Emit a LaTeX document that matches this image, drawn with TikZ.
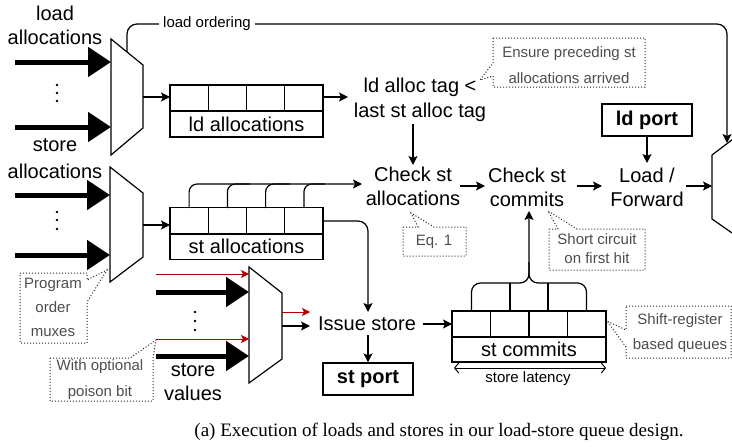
\documentclass[tikz,border=0pt]{standalone}
\usepackage{fontspec}
\setmainfont{Liberation Serif}
\newfontfamily\lsans{Liberation Sans}
\usetikzlibrary{arrows.meta}
\definecolor{poison}{HTML}{B20000}
\definecolor{notegray}{HTML}{4D4D4D}
\definecolor{noteline}{HTML}{262626}
\begin{document}
\begin{tikzpicture}[x=1pt,y=-1pt,
  line width=1.2pt,
  arr/.style={-{Stealth[length=9pt,width=9pt,inset=2pt]}},
  fat/.style={line width=5pt,-{Triangle[length=23pt,width=29pt]}},
  redarr/.style={draw=poison, line width=1pt, -{Stealth[length=8pt,width=8pt,inset=2pt,fill=poison]}},
  lbl/.style={font=\lsans\fontsize{20}{24}\selectfont, align=center, inner sep=0pt},
  port/.style={draw, font=\lsans\bfseries\fontsize{20}{24}\selectfont, minimum width=90pt, minimum height=32pt, inner sep=0pt},
  note/.style={draw=noteline, dotted, line width=1pt},
  notetext/.style={font=\lsans\fontsize{15}{26}\selectfont, text=notegray, align=center, inner sep=0pt},
  small/.style={font=\lsans\fontsize{15}{18}\selectfont, inner sep=0pt},
  qbox/.style={draw, minimum width=153pt, minimum height=52pt, inner sep=0pt},
  qlabel/.style={font=\lsans\fontsize{20}{24}\selectfont, inner sep=0pt},
  mux/.style={line width=1.2pt, fill=white, line join=miter},
  ]
\useasboundingbox (0,0) rectangle (732,447);
\clip (0,0) rectangle (732,447);

% ---------------- left labels ----------------
\node[lbl] (ldalloc) at (55,25.5) {load\\allocations};
\node[lbl, font=\lsans\fontsize{20}{27}\selectfont] (stalloc) at (55,158.5) {store\\allocations};
\node[lbl] (stval) at (193,382.5) {store\\values};
\foreach \y in {85,93,101} \fill (57,\y) circle (1.3pt);
\foreach \y in {212,220,229} \fill (57,\y) circle (1.3pt);
\foreach \y in {312,321,330} \fill (195,\y) circle (1.3pt);

% ---------------- load ordering ----------------
\draw[arr, rounded corners=10] (127,52) -- (127,24) -- (727,24) -- (727,143);
\node[small, fill=white, inner xsep=4pt, inner ysep=2pt] (ldord) at (207,24) {load ordering};

% ---------------- muxes ----------------
\draw[mux] (111,39) -- (143,65) -- (143,128) -- (111,155) -- cycle;
\draw[mux] (110,167) -- (143,193) -- (143,257) -- (110,282) -- cycle;
\draw[mux] (249,267) -- (282,293) -- (282,359) -- (249,383) -- cycle;
\draw[mux] (745,130) -- (712,155) -- (712,219) -- (745,242);

\draw[fat] (15,62) -- (111,62);
\draw[fat] (15,127) -- (111,127);
\draw[fat] (15,195) -- (110,195);
\draw[fat] (15,255) -- (110,255);
\draw[fat] (156,292) -- (249,292);
\draw[fat] (156,356) -- (249,356);
\draw[redarr] (156,274) -- (249,274);
\draw[redarr] (156,339) -- (249,339);

% ---------------- queues ----------------
\node[qbox] (ldq) at (246.5,111) {};
\draw (170,111) -- (323,111);
\foreach \x in {208.25,246.5,284.75} \draw (\x,85) -- (\x,111);
\node[qlabel] at (246.5,124) {ld allocations};

\node[qbox] (stq) at (246.5,233.5) {};
\draw (170,234) -- (323,234);
\foreach \x in {208.25,246.5,284.75} \draw (\x,208) -- (\x,234);
\node[qlabel] at (246.5,246.5) {st allocations};

\node[qbox, minimum width=154pt, minimum height=51pt] (stc) at (529,336.5) {};
\draw (452,337) -- (606,337);
\foreach \x in {490.5,529,567.5} \draw (\x,311) -- (\x,337);
\node[qlabel] at (529,349.5) {st commits};

% ---------------- text nodes ----------------
\node[lbl, font=\lsans\fontsize{20}{25}\selectfont] (ldtag) at (420,99.5) {ld alloc tag <\\last st alloc tag};
\node[lbl, font=\lsans\fontsize{20}{23.5}\selectfont] (chka) at (413,186.5) {Check st\\allocations};
\node[lbl] (chkc) at (527,187) {Check st\\commits};
\node[lbl] (ldfw) at (647,187) {Load /\\Forward};
\node[port] (ldport) at (647,120) {ld port};
\node[lbl] (issue) at (367,324) {Issue store};
\node[port] (stport) at (368,379) {st port};

% ---------------- connectors ----------------
\draw[arr] (143,97) -- (170,97);
\draw[arr] (143,225) -- (170,225);
\draw[arr] (323,97) -- (348,97);
\draw[arr] (413,124) -- (413,165);
\draw[arr] (460,186) -- (485,186);
\draw[arr] (577,186) -- (602,186);
\draw[arr] (ldport.south) -- (647,163);
\draw[arr] (686,186) -- (712,186);

% st allocations bracket
\draw[arr, rounded corners=8] (189.1,208) -- (189.1,184) -- (362,184);
\draw[rounded corners=8] (227.4,208) -- (227.4,184) -- (250,184);
\draw[rounded corners=8] (265.6,208) -- (265.6,184) -- (290,184);
\draw[rounded corners=8] (303.9,208) -- (303.9,184) -- (325,184);

% st allocations -> issue store
\draw[arr, rounded corners=10] (323,221) -- (368,221) -- (368,312);
\draw[redarr] (282,312) -- (310,312);
\draw[arr] (282,326) -- (310,326);
\draw[arr] (368,335) -- (stport.north);
\draw[arr] (423,324) -- (452,324);

% st commits bracket
\draw[arr, rounded corners=9] (471.5,311) -- (471.5,283) -- (529,283) -- (529,211);
\draw[rounded corners=9] (586.5,311) -- (586.5,283) -- (529,283) -- (529,262);
\draw (510,311) -- (510,283);
\draw (548,311) -- (548,283);

% store latency
\draw[line width=1pt, {Straight Barb[length=4pt,width=10pt]}-{Straight Barb[length=4pt,width=10pt]}] (454,368) -- (606,368);
\node[small] (lat) at (528,379) {store latency};

% ---------------- callouts ----------------
\draw[note] (493,38) -- (645,38) -- (645,87) -- (493,87) -- (493,76) -- (480,80) -- (493,63) -- cycle;
\node[notetext] (n1) at (569,65) {Ensure preceding st\\allocations arrived};

\draw[note] (403,227) -- (418,227) -- (411,213) -- (434,227) -- (466,227) -- (466,256) -- (403,256) -- cycle;
\node[notetext] (n2) at (434,242) {Eq. 1};

\draw[note] (549,229) -- (558,229) -- (548,211) -- (577,229) -- (645,229) -- (645,270) -- (549,270) -- cycle;
\node[notetext, font=\lsans\fontsize{15}{19}\selectfont] (n3) at (597,249) {Short circuit\\on first hit};

\draw[note] (626,306) -- (731,306) -- (731,358) -- (626,358) -- (626,347) -- (607,321) -- (626,330) -- cycle;
\node[notetext, font=\lsans\fontsize{15}{25}\selectfont] (n4) at (680,333.5) {Shift-register\\based queues};

\draw[note] (20,273) -- (87,273) -- (87,280) -- (107,270) -- (87,302) -- (87,343) -- (20,343) -- cycle;
\node[notetext, font=\lsans\fontsize{15}{24}\selectfont] (n5) at (53,307) {Program\\order\\muxes};

\draw[note] (50,358) -- (130,358) -- (156,340) -- (153,358) -- (153,401) -- (50,401) -- cycle;
\node[notetext] (n6) at (100,380) {With optional\\poison bit};

% ---------------- caption ----------------
\node[font=\fontsize{19}{22}\selectfont, inner sep=0pt] (cap) at (439,432) {(a) Execution of loads and stores in our load-store queue design.};
\end{tikzpicture}
\end{document}
